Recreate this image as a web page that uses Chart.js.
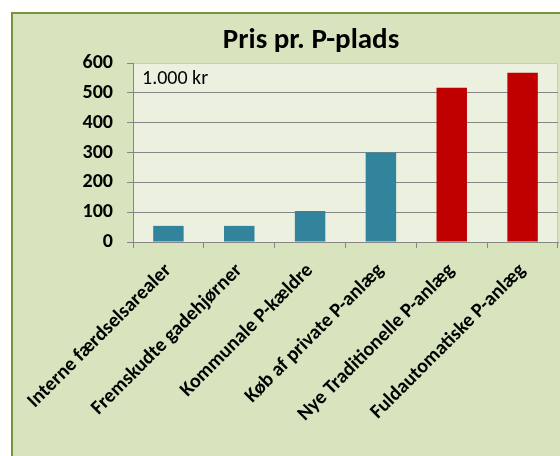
<!DOCTYPE html>
<html>
<head>
<meta charset="utf-8">
<script src="https://cdn.jsdelivr.net/npm/chart.js@4/dist/chart.umd.min.js"></script>
<style>
html,body{margin:0;padding:0;background:#fff;}
#wrap{width:560px;height:456px;position:relative;}
</style>
</head>
<body>
<div id="wrap"><canvas id="c" width="560" height="456"></canvas></div>
<script>
const title = 'Pris pr. P-plads';
const unitNote = '1.000 kr';
const categories = ['Interne færdselsarealer','Fremskudte gadehjørner','Kommunale P-kældre','Køb af private P-anlæg','Nye Traditionelle P-anlæg','Fuldautomatiske P-anlæg'];
const values = [54, 54, 104, 300, 517, 567];
const isNew = [false, false, false, false, true, true];
const yTicks = [0, 100, 200, 300, 400, 500, 600];

const FONT = 'Carlito, Calibri, Lato, sans-serif';

const framePlugin = {
  id: 'frame',
  beforeDraw(chart) {
    const {ctx, chartArea: a, width, height} = chart;
    ctx.save();
    ctx.fillStyle = '#ffffff';
    ctx.fillRect(0, 0, width, height);
    ctx.fillStyle = '#D7E4BD';
    ctx.fillRect(11, 12, width, height);
    ctx.strokeStyle = '#77933C';
    ctx.lineWidth = 2;
    ctx.strokeRect(12, 13, width + 10, height + 10);
    ctx.fillStyle = '#EBF1DE';
    ctx.fillRect(a.left, a.top, a.right - a.left, a.bottom - a.top);
    ctx.strokeStyle = '#C3D69B';
    ctx.lineWidth = 1;
    ctx.beginPath();
    ctx.moveTo(a.left, a.top + 0.5);
    ctx.lineTo(a.right - 0.5, a.top + 0.5);
    ctx.lineTo(a.right - 0.5, a.bottom);
    ctx.stroke();
    ctx.restore();
  },
  afterDraw(chart) {
    const {ctx, chartArea: a} = chart;
    ctx.save();
    ctx.fillStyle = '#000';
    ctx.textAlign = 'center';
    ctx.textBaseline = 'alphabetic';
    ctx.font = 'bold 29px ' + FONT;
    ctx.fillText(title, 311, 48);
    ctx.textAlign = 'left';
    ctx.font = '20px ' + FONT;
    ctx.fillText(unitNote, a.left + 9, 84);
    ctx.restore();
  }
};

new Chart(document.getElementById('c'), {
  type: 'bar',
  data: {
    labels: categories,
    datasets: [{
      data: values,
      backgroundColor: isNew.map(n => n ? '#C00000' : '#31849B'),
      borderWidth: 0,
      categoryPercentage: 1,
      barPercentage: 0.43
    }]
  },
  options: {
    responsive: false,
    animation: false,
    layout: {padding: {top: 63, right: 2, left: 0, bottom: 0}},
    plugins: {legend: {display: false}, tooltip: {enabled: false}, title: {display: false}},
    scales: {
      x: {
        afterFit: s => { s.height = 214; },
        grid: {display: true, drawOnChartArea: false, drawTicks: true, tickLength: 6, color: '#868686', offset: true},
        border: {display: true, color: '#868686', width: 1},
        ticks: {
          minRotation: 45, maxRotation: 45, autoSkip: false,
          color: '#000', padding: 11,
          font: {family: FONT, size: 20, weight: 'bold'}
        }
      },
      y: {
        min: 0, max: 600,
        afterFit: s => { s.width = 133; },
        afterBuildTicks: s => { s.ticks = yTicks.map(v => ({value: v})); },
        grid: {
          color: c => (c.tick && c.tick.value === 600) ? 'rgba(0,0,0,0)' : '#868686',
          tickColor: '#868686', tickLength: 6, lineWidth: 1
        },
        border: {display: true, color: '#868686', width: 1},
        ticks: {
          color: '#000', padding: 14,
          font: {family: FONT, size: 20, weight: 'bold'}
        }
      }
    }
  },
  plugins: [framePlugin]
});
</script>
</body>
</html>
